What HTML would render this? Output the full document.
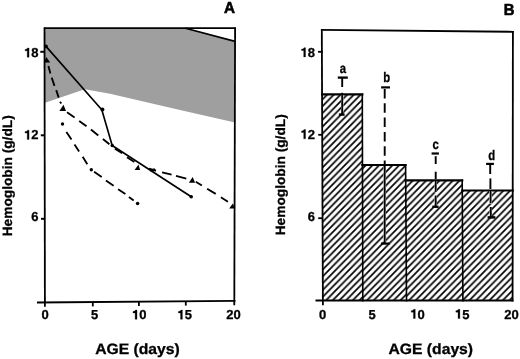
<!DOCTYPE html>
<html><head><meta charset="utf-8"><style>
html,body{margin:0;padding:0;background:#fff;width:520px;height:359px;overflow:hidden}
svg{display:block;will-change:transform}
text{font-family:"Liberation Sans",sans-serif;font-weight:bold;fill:#000;text-rendering:geometricPrecision;stroke:#000;stroke-width:0.3px}
</style></head><body>
<svg width="520" height="359" viewBox="0 0 520 359">
<defs>
<pattern id="h1" patternUnits="userSpaceOnUse" x="5.78" y="0" width="6.68" height="6.68" patternTransform="skewX(1.146)">
<path d="M-1,1 l2,-2 M0,6.68 l6.68,-6.68 M5.68,7.68 l2,-2" stroke="#000" stroke-width="1.65"/>
</pattern>
<pattern id="h2" patternUnits="userSpaceOnUse" x="0.02" y="0" width="6.68" height="6.68" patternTransform="skewX(1.146)">
<path d="M-1,1 l2,-2 M0,6.68 l6.68,-6.68 M5.68,7.68 l2,-2" stroke="#000" stroke-width="1.65"/>
</pattern>
<pattern id="h3" patternUnits="userSpaceOnUse" x="1.95" y="0" width="6.68" height="6.68" patternTransform="skewX(1.146)">
<path d="M-1,1 l2,-2 M0,6.68 l6.68,-6.68 M5.68,7.68 l2,-2" stroke="#000" stroke-width="1.65"/>
</pattern>
<pattern id="h4" patternUnits="userSpaceOnUse" x="2.2" y="0" width="6.68" height="6.68" patternTransform="skewX(1.146)">
<path d="M-1,1 l2,-2 M0,6.68 l6.68,-6.68 M5.68,7.68 l2,-2" stroke="#000" stroke-width="1.65"/>
</pattern>
</defs>
<rect width="520" height="359" fill="#fff"/>

<!-- ===== Panel A ===== -->
<polygon points="45,28 186,28 235,41.5 235,122.5 180,110.1 110,93.7 84.8,89.2 45,102.7" fill="#9f9f9f"/>
<line x1="185.5" y1="28.3" x2="235" y2="41.4" stroke="#000" stroke-width="1.7"/>
<!-- frame -->
<g stroke="#000" stroke-width="1.8" fill="none">
<line x1="44.5" y1="27.4" x2="44.9" y2="302.8"/>
<line x1="43.9" y1="28.2" x2="235.9" y2="28.2"/>
<line x1="235.1" y1="27.4" x2="234.3" y2="305.3"/>
<line x1="37" y1="302.5" x2="235.5" y2="300.8" stroke-width="1.8"/>
<!-- y ticks -->
<line x1="40.3" y1="51.8" x2="44.7" y2="51.8" stroke-width="2"/>
<line x1="40.8" y1="135.3" x2="44.7" y2="135.3" stroke-width="2"/>
<line x1="41" y1="218.8" x2="44.7" y2="218.8" stroke-width="2"/>
<!-- x ticks -->
<line x1="44.9" y1="302.4" x2="44.9" y2="306.8"/>
<line x1="92.8" y1="302.0" x2="92.8" y2="306.4"/>
<line x1="138.9" y1="301.6" x2="138.9" y2="306.0"/>
<line x1="185.8" y1="301.2" x2="185.8" y2="305.6"/>
</g>
<!-- series 1 solid -->
<polyline points="46,46.4 101.8,109.7 112.2,145.5 191.2,196.7" fill="none" stroke="#000" stroke-width="1.65" stroke-linejoin="round"/>
<g fill="#000">
<circle cx="46" cy="46.4" r="1.9"/><circle cx="102.4" cy="109.5" r="2"/><circle cx="112.2" cy="145.5" r="1.7"/><circle cx="191.2" cy="196.7" r="1.8"/>
</g>
<!-- series 2 dashed triangles -->
<path d="M48.4,65.9 L50.4,73.4 M51.7,77.6 L54.5,85.9 M56.2,90.1 L58.7,97.6 M60,101.8 L61.3,103.5 M67,112.3 L74.6,117.4 M79.2,120.9 L86.5,126.2 M90.9,129.5 L98.3,135.5 M102.9,139 L109.4,144.3 M114.9,148.6 L122.2,153.2 M127,157.2 L134.4,162 M149,168.6 L156,170.6 M162.1,172.3 L171.6,174.6 M176,175.9 L186.3,178.6 M195.8,181.8 L201.9,185.5 M207.1,188.7 L215.7,193.9 M220.9,197.2 L227.9,201.8" fill="none" stroke="#000" stroke-width="1.85"/>
<g fill="#000">
<polygon points="46.3,57 50.2,62.5 43.9,62.5"/>
<polygon points="63.5,104.8 66,111 59.4,111"/>
<polygon points="138.5,164.5 140.1,170.1 134.6,170.1"/>
<polygon points="154.3,167.9 156.0,171.3 149.6,171.3"/>
<polygon points="192.7,176.9 195.1,182.7 188.8,182.7"/>
<polygon points="232.8,203.4 235.3,208.6 229.2,208.6"/>
</g>
<!-- series 3 dashed dots -->
<path d="M66.4,132 L71.5,139.6 M74.5,144.5 L79.1,151.6 M82.7,156.8 L87.3,164.2 M94.1,171.8 L101.7,177 M105.9,180.6 L113.6,185.8 M118.1,189.2 L125.4,194.1 M128.9,196.9 L133.7,200.4" fill="none" stroke="#000" stroke-width="1.85"/>
<g fill="#000">
<circle cx="62.5" cy="124" r="1.7"/><circle cx="91.3" cy="169.7" r="1.7"/><circle cx="137.6" cy="203.5" r="1.8"/>
</g>
<!-- labels A -->
<text transform="translate(229.5,12.5) scale(0.95,1)" font-size="16" text-anchor="middle" style="stroke-width:0.6px">A</text>
<g font-size="13" text-anchor="end">
<path transform="translate(24.14,57.2)" d="M4.91,0 L4.91,-9.23 L3.41,-9.23 C3.18,-8.45 2.34,-7.87 0.9,-7.8 L0.9,-6.34 L3.07,-6.34 L3.07,0 Z" fill="#000" stroke="#000" stroke-width="0.3"/><text x="31.37" y="57.2" text-anchor="start">8</text>
<path transform="translate(24.14,139.4)" d="M4.91,0 L4.91,-9.23 L3.41,-9.23 C3.18,-8.45 2.34,-7.87 0.9,-7.8 L0.9,-6.34 L3.07,-6.34 L3.07,0 Z" fill="#000" stroke="#000" stroke-width="0.3"/><text x="31.37" y="139.4" text-anchor="start">2</text>
<text x="38.5" y="220.9">6</text>
</g>
<g font-size="13" text-anchor="middle">
<text x="45" y="319.3">0</text>
<text x="94.5" y="319.3">5</text>
<path transform="translate(132.07,319.3)" d="M4.91,0 L4.91,-9.23 L3.41,-9.23 C3.18,-8.45 2.34,-7.87 0.9,-7.8 L0.9,-6.34 L3.07,-6.34 L3.07,0 Z" fill="#000" stroke="#000" stroke-width="0.3"/><text x="139.30" y="319.3" text-anchor="start">0</text>
<path transform="translate(177.47,319.3)" d="M4.91,0 L4.91,-9.23 L3.41,-9.23 C3.18,-8.45 2.34,-7.87 0.9,-7.8 L0.9,-6.34 L3.07,-6.34 L3.07,0 Z" fill="#000" stroke="#000" stroke-width="0.3"/><text x="184.70" y="319.3" text-anchor="start">5</text>
<text x="233.4" y="319.3">20</text>
</g>
<text x="137.5" y="353.9" font-size="15" text-anchor="middle" textLength="84.5" lengthAdjust="spacingAndGlyphs">AGE (days)</text>
<text transform="translate(11.9,175.8) rotate(-90)" font-size="13.4" text-anchor="middle" textLength="121" lengthAdjust="spacingAndGlyphs">Hemoglobin (g/dL)</text>

<!-- ===== Panel B ===== -->
<g>
<polygon fill="url(#h1)" points="322.1,94.3 362.3,94.3 362.8,300.7 322.9,300.7"/>
<polygon fill="url(#h2)" points="362.3,165 405.6,165 406.5,300.7 362.8,300.7"/>
<polygon fill="url(#h3)" points="405.6,180.3 462.2,180.3 462.9,300.7 406.5,300.7"/>
<polygon fill="url(#h4)" points="462.2,190.5 512.8,190.5 512.6,300.7 462.9,300.7"/>
</g>
<g stroke="#000" fill="none" stroke-linecap="square">
<line x1="322.1" y1="94.3" x2="362.3" y2="94.3" stroke-width="2.2"/>
<line x1="362.3" y1="165" x2="405.6" y2="165" stroke-width="2.2"/>
<line x1="405.6" y1="180.3" x2="462.2" y2="180.3" stroke-width="2.2"/>
<line x1="462.2" y1="190.5" x2="512.8" y2="190.5" stroke-width="2.2"/>
<line x1="362.3" y1="94.3" x2="362.8" y2="300.7" stroke-width="1.6"/>
<line x1="405.6" y1="165" x2="406.5" y2="300.7" stroke-width="1.6"/>
<line x1="462.2" y1="180.3" x2="462.9" y2="300.7" stroke-width="1.6"/>
</g>
<g stroke="#000" stroke-width="1.8" fill="none">
<line x1="321.8" y1="29" x2="322.9" y2="305.3"/>
<line x1="321" y1="29.8" x2="513.7" y2="31.8"/>
<line x1="512.9" y1="31" x2="512.6" y2="301.5"/>
<line x1="315.5" y1="300.5" x2="513.4" y2="300.5" stroke-width="1.8"/>
<line x1="318" y1="51.8" x2="322.8" y2="51.8"/>
<line x1="318.2" y1="134.8" x2="322.8" y2="134.8"/>
<line x1="318.2" y1="218.2" x2="322.8" y2="218.2"/>
</g>
<!-- error bars -->
<g stroke="#fff" stroke-width="2.5" fill="none">
<line x1="342.2" y1="95" x2="342.2" y2="112.5"/>
<line x1="384.7" y1="166" x2="384.7" y2="242"/>
<line x1="435.7" y1="181" x2="435.7" y2="192.5"/>
<line x1="435.7" y1="195" x2="435.7" y2="206"/>
<line x1="490.6" y1="191" x2="490.6" y2="204"/>
<line x1="490.8" y1="206.5" x2="490.8" y2="216.5"/>
</g>
<g stroke="#000" stroke-width="1.9" fill="none">
<!-- a -->
<line x1="337.8" y1="77.6" x2="347.8" y2="77.6" stroke-width="2.3"/>
<line x1="342.2" y1="77.6" x2="342.2" y2="87"/>
<line x1="342.2" y1="92.8" x2="342.2" y2="114.5"/>
<line x1="338.9" y1="114.6" x2="344.6" y2="114.6" stroke-width="2.4"/>
<!-- b -->
<line x1="381.1" y1="87.4" x2="390" y2="87.4" stroke-width="2.2"/>
<line x1="384.7" y1="89" x2="384.7" y2="164.5" stroke-dasharray="9.5 4.8"/>
<line x1="384.7" y1="164.5" x2="384.7" y2="243.6"/>
<line x1="381" y1="243.6" x2="389.5" y2="243.6" stroke-width="2.2"/>
<!-- c -->
<line x1="431.6" y1="153.5" x2="438.9" y2="153.5" stroke-width="2.2"/>
<line x1="435.7" y1="156.2" x2="435.7" y2="164"/>
<line x1="435.7" y1="171.7" x2="435.7" y2="179"/>
<line x1="435.7" y1="181" x2="435.7" y2="192" />
<line x1="435.7" y1="195.5" x2="435.7" y2="206.8" />
<line x1="432.3" y1="206.8" x2="438.6" y2="206.8" stroke-width="2.3"/>
<!-- d -->
<line x1="486.1" y1="163.9" x2="493.9" y2="163.9" stroke-width="2.2"/>
<line x1="490.2" y1="163.9" x2="490.2" y2="174"/>
<line x1="490.4" y1="178.4" x2="490.4" y2="189"/>
<line x1="490.6" y1="191" x2="490.6" y2="203.5"/>
<line x1="490.8" y1="207" x2="490.8" y2="217.4"/>
<line x1="487.6" y1="217.4" x2="495.4" y2="217.4" stroke-width="2.5"/>
</g>
<g font-size="13.8" text-anchor="middle" style="stroke-width:0.15px">
<text transform="translate(342.8,72.9) scale(0.82,1)">a</text>
<text transform="translate(386.8,81.8) scale(0.82,1)">b</text>
<text transform="translate(435.7,149) scale(0.82,1)">c</text>
<text transform="translate(491.6,159.7) scale(0.82,1)">d</text>
</g>
<!-- labels B -->
<text transform="translate(509.1,15.1) scale(0.93,1)" font-size="16" text-anchor="middle" style="stroke-width:0.6px">B</text>
<g font-size="13" text-anchor="end">
<path transform="translate(300.64,56.9)" d="M4.91,0 L4.91,-9.23 L3.41,-9.23 C3.18,-8.45 2.34,-7.87 0.9,-7.8 L0.9,-6.34 L3.07,-6.34 L3.07,0 Z" fill="#000" stroke="#000" stroke-width="0.3"/><text x="307.87" y="56.9" text-anchor="start">8</text>
<path transform="translate(300.64,138.8)" d="M4.91,0 L4.91,-9.23 L3.41,-9.23 C3.18,-8.45 2.34,-7.87 0.9,-7.8 L0.9,-6.34 L3.07,-6.34 L3.07,0 Z" fill="#000" stroke="#000" stroke-width="0.3"/><text x="307.87" y="138.8" text-anchor="start">2</text>
<text x="315.1" y="220.8">6</text>
</g>
<g font-size="13" text-anchor="middle">
<text x="322.7" y="318.5">0</text>
<text x="372" y="318.5">5</text>
<path transform="translate(410.37,318.5)" d="M4.91,0 L4.91,-9.23 L3.41,-9.23 C3.18,-8.45 2.34,-7.87 0.9,-7.8 L0.9,-6.34 L3.07,-6.34 L3.07,0 Z" fill="#000" stroke="#000" stroke-width="0.3"/><text x="417.60" y="318.5" text-anchor="start">0</text>
<path transform="translate(454.97,318.5)" d="M4.91,0 L4.91,-9.23 L3.41,-9.23 C3.18,-8.45 2.34,-7.87 0.9,-7.8 L0.9,-6.34 L3.07,-6.34 L3.07,0 Z" fill="#000" stroke="#000" stroke-width="0.3"/><text x="462.20" y="318.5" text-anchor="start">5</text>
<text x="511.4" y="318.5">20</text>
</g>
<text x="430.8" y="353.8" font-size="15" text-anchor="middle" textLength="84.5" lengthAdjust="spacingAndGlyphs">AGE (days)</text>
<text transform="translate(285.4,174.8) rotate(-90)" font-size="13.4" text-anchor="middle" textLength="121" lengthAdjust="spacingAndGlyphs">Hemoglobin (g/dL)</text>
</svg>
</body></html>
